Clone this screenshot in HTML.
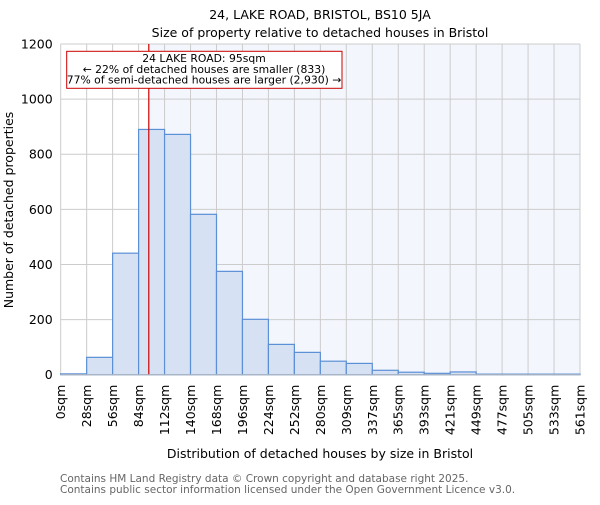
<!DOCTYPE html>
<html><head><meta charset="utf-8"><style>
body{margin:0;background:#fff}
svg text{font-family:"DejaVu Sans","Liberation Sans",sans-serif}
</style></head><body>
<svg id="chart" width="600" height="500" xmlns="http://www.w3.org/2000/svg">
<text x="320" y="19" text-anchor="middle" font-size="12.5">24, LAKE ROAD, BRISTOL, BS10 5JA</text>
<text x="320" y="37" text-anchor="middle" font-size="12.5">Size of property relative to detached houses in Bristol</text>
<g id="plot"></g>
<text transform="translate(13,210) rotate(-90)" text-anchor="middle" font-size="12.5">Number of detached properties</text>
<text x="320" y="458" text-anchor="middle" font-size="12.5">Distribution of detached houses by size in Bristol</text>
<text x="60" y="482" font-size="10.5" fill="#666">Contains HM Land Registry data © Crown copyright and database right 2025.</text>
<text x="60" y="493" font-size="10.5" fill="#666">Contains public sector information licensed under the Open Government Licence v3.0.</text>
</svg>
<script>
const binLabels=["0sqm","28sqm","56sqm","84sqm","112sqm","140sqm","168sqm","196sqm","224sqm","252sqm","280sqm","309sqm","337sqm","365sqm","393sqm","421sqm","449sqm","477sqm","505sqm","533sqm","561sqm"];
const counts=[3,63,441,890,872,582,375,201,110,81,49,41,16,9,5,10,2,2,2,2];
const yTicks=[0,200,400,600,800,1000,1200];
const markerSqm=95;
const binSize=28;

const L=60.7,R=580,T=44,B=374.7,yMax=1200;
const nb=counts.length;
const xs=i=>L+(R-L)*i/nb;
const xv=v=>L+(R-L)*v/(binSize*nb);
const ys=v=>B-(B-T)*v/yMax;
const NS="http://www.w3.org/2000/svg";
const g=document.getElementById('plot');
function mk(tag,attrs){const e=document.createElementNS(NS,tag);for(const k in attrs)e.setAttribute(k,attrs[k]);g.appendChild(e);return e;}
const mx=xv(markerSqm);
let e=mk('rect',{x:mx,y:T,width:R-mx,height:B-T,fill:'#f3f6fd'});


for(let i=0;i<=nb;i++){e=mk('line',{x1:xs(i),x2:xs(i),y1:T,y2:B,stroke:'#cccccc','stroke-width':1});

}
yTicks.forEach(v=>{e=mk('line',{x1:L,x2:R,y1:ys(v),y2:ys(v),stroke:'#cccccc','stroke-width':1});


const t=mk('text',{x:L-8,y:ys(v)+4.5,'text-anchor':'end','font-size':'12.5'});t.textContent=v;

});
counts.forEach((c,i)=>{e=mk('rect',{x:xs(i),y:ys(c),width:xs(i+1)-xs(i),height:B-ys(c),fill:'#d6e2f4',stroke:'#5b8fd6','stroke-width':1.2});

});
binLabels.forEach((lb,i)=>{const t=mk('text',{transform:`translate(${xs(i)+4.5},${B+10}) rotate(-90)`,'text-anchor':'end','font-size':'12.5'});t.textContent=lb;

});
e=mk('line',{x1:mx,x2:mx,y1:T,y2:B,stroke:'#cc0000','stroke-width':1.2});


e=mk('rect',{x:66.7,y:51.3,width:275.3,height:37,fill:'#fff',stroke:'#cc0000','stroke-width':1});


["24 LAKE ROAD: 95sqm","← 22% of detached houses are smaller (833)","77% of semi-detached houses are larger (2,930) →"].forEach((s,k)=>{const t=mk('text',{x:204,y:62+k*10.8,'text-anchor':'middle','font-size':'10.8'});t.textContent=s;

});
e=mk('line',{x1:L,x2:R,y1:B,y2:B,stroke:'#bbbbbb','stroke-width':1});


</script>
</body></html>
